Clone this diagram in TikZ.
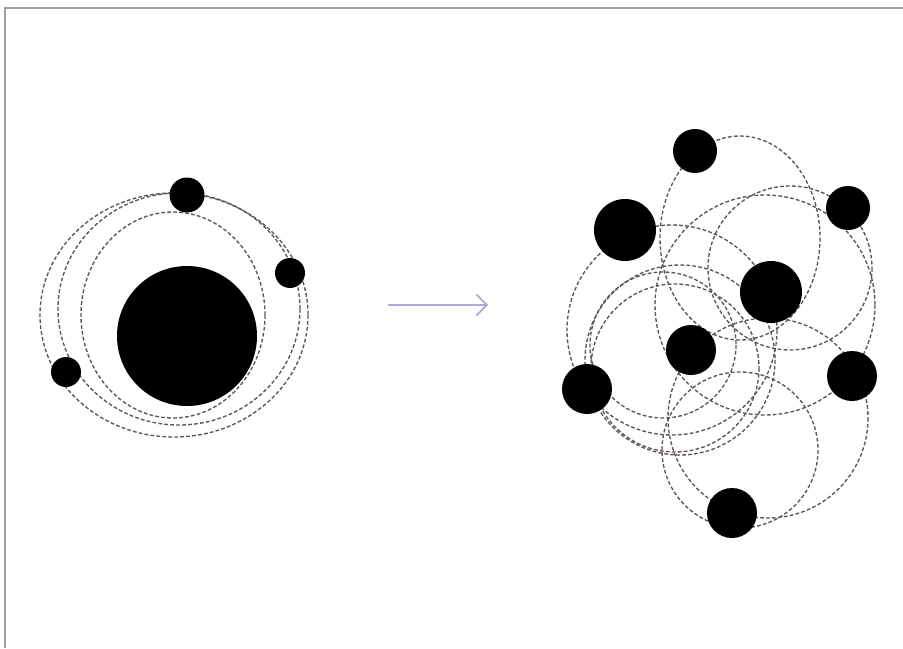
\documentclass[tikz,border=0pt]{standalone}
\usetikzlibrary{arrows.meta}
\definecolor{orbitgray}{HTML}{5E5454}
\definecolor{framegray}{HTML}{A0A0A0}
\definecolor{lavender}{HTML}{B4A6D8}
\tikzset{
  orbit/.style={draw=orbitgray, line width=1.15pt, dash pattern=on 3.2pt off 1.9pt},
  planet/.style={circle, fill=black, draw=none, inner sep=0pt, minimum size=#1*0.06cm},
  frameline/.style={draw=framegray, line width=1.5pt},
  flowarrow/.style={draw=lavender, line width=1.6pt, -{Straight Barb[length=9pt,width=18pt,line width=1.4pt]}}
}
\begin{document}
\begin{tikzpicture}[x=0.03cm,y=-0.03cm]
\useasboundingbox (0,0) rectangle (903,648);
\fill[white] (0,0) rectangle (903,648);
% frame
\coordinate (fr) at (903,8);
\coordinate (ftl) at (5,8);
\coordinate (fb) at (5,648);
\draw[frameline] (fr) -- (ftl) -- (fb);

% left system orbits
\draw[orbit] (174,315) ellipse [x radius=134, y radius=122];
\draw[orbit] (179,309) ellipse [x radius=121, y radius=116];
\draw[orbit] (173,315) ellipse [x radius=92, y radius=103];

% left system bodies
\node[planet=70] (sun) at (187,336) {};
\node[planet=17.5] (ltop) at (187,195) {};
\node[planet=15] (lright) at (290,273) {};
\node[planet=15] (lleft) at (66,372) {};

% arrow
\coordinate (as) at (388,305);
\coordinate (ae) at (488,305);
\draw[flowarrow] (as) -- (ae);

% right system orbits
\draw[orbit] (740,238) ellipse [x radius=80, y radius=102];
\draw[orbit] (790,268) circle [radius=82];
\draw[orbit] (672,330) circle [radius=105];
\draw[orbit] (663,345) circle [radius=73];
\draw[orbit] (680,360) circle [radius=95];
\draw[orbit] (740,450) circle [radius=78];
\draw[orbit] (768,418) circle [radius=100];
\draw[orbit] (765,305) circle [radius=110];
\draw[orbit] (675,368) circle [radius=84];

% right system bodies
\node[planet=22] (r1) at (695,151) {};
\node[planet=31] (r2) at (625,230) {};
\node[planet=22] (r3) at (848,208) {};
\node[planet=31] (r4) at (771,292) {};
\node[planet=25] (r5) at (691,350) {};
\node[planet=25] (r6) at (587,389) {};
\node[planet=25] (r7) at (852,376) {};
\node[planet=25] (r8) at (732,513) {};
\end{tikzpicture}
\end{document}
